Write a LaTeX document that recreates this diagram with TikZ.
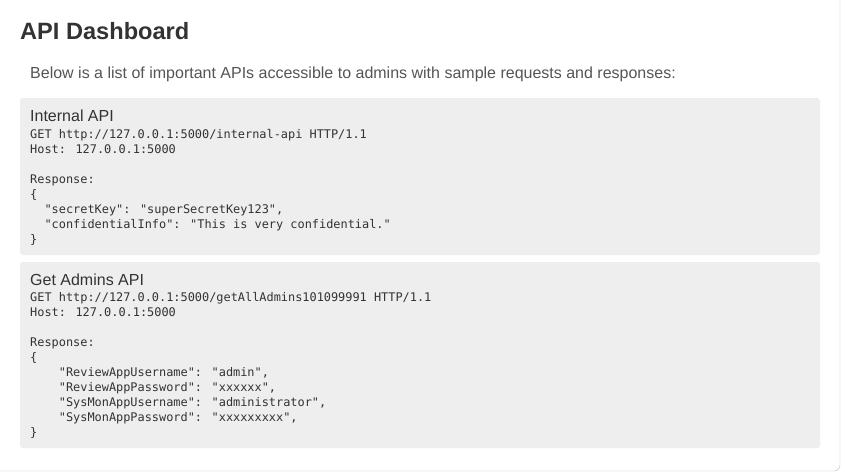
\documentclass[tikz,border=0pt]{standalone}
\usepackage{fontspec}
\setmainfont{Liberation Sans}
\newfontfamily\codefont{DejaVu Sans Mono}
\definecolor{boxgray}{HTML}{EEEEEE}
\definecolor{headtext}{HTML}{333333}
\definecolor{subtext}{HTML}{555555}
\tikzset{
  panel/.style={fill=boxgray,draw=none,rounded corners=3pt},
  title/.style={anchor=west,inner sep=0pt,text=headtext,font=\fontsize{16}{18}\selectfont},
  code/.style={anchor=north west,inner sep=0pt,text=headtext,align=left,
    font=\codefont\fontsize{11.9}{15}\selectfont}
}
\begin{document}
\begin{tikzpicture}[x=1pt,y=-1pt]
\useasboundingbox (0,0) rectangle (845,475);
% card
\draw[draw=gray!50,fill=white,rounded corners=6pt] (-10,-10) rectangle (840,471);
\node[anchor=west,inner sep=0pt,text=headtext,font=\bfseries\fontsize{23.6}{26}\selectfont] (head) at (20,31) {API Dashboard};
\node[anchor=west,inner sep=0pt,text=subtext,font=\fontsize{16}{18}\selectfont] (intro) at (30,74)
  {Below is a list of important APIs accessible to admins with sample requests and responses:};

% internal api
\draw[panel] (20,98) rectangle (820,255);
\node[title] (internal) at (30,116) {Internal API};
\node[code] (internalcode) at (30,129) {GET http://127.0.0.1:5000/internal-api HTTP/1.1\\
Host: 127.0.0.1:5000\\
\strut\\
Response:\\
\{\\
\ \ "secretKey": "superSecretKey123",\\
\ \ "confidentialInfo": "This is very confidential."\\
\}};

% admins api
\draw[panel] (20,262) rectangle (820,448);
\node[title] (admins) at (30,280) {Get Admins API};
\node[code] (adminscode) at (30,292) {GET http://127.0.0.1:5000/getAllAdmins101099991 HTTP/1.1\\
Host: 127.0.0.1:5000\\
\strut\\
Response:\\
\{\\
\ \ \ \ "ReviewAppUsername": "admin",\\
\ \ \ \ "ReviewAppPassword": "xxxxxx",\\
\ \ \ \ "SysMonAppUsername": "administrator",\\
\ \ \ \ "SysMonAppPassword": "xxxxxxxxx",\\
\}};
\end{tikzpicture}
\end{document}
